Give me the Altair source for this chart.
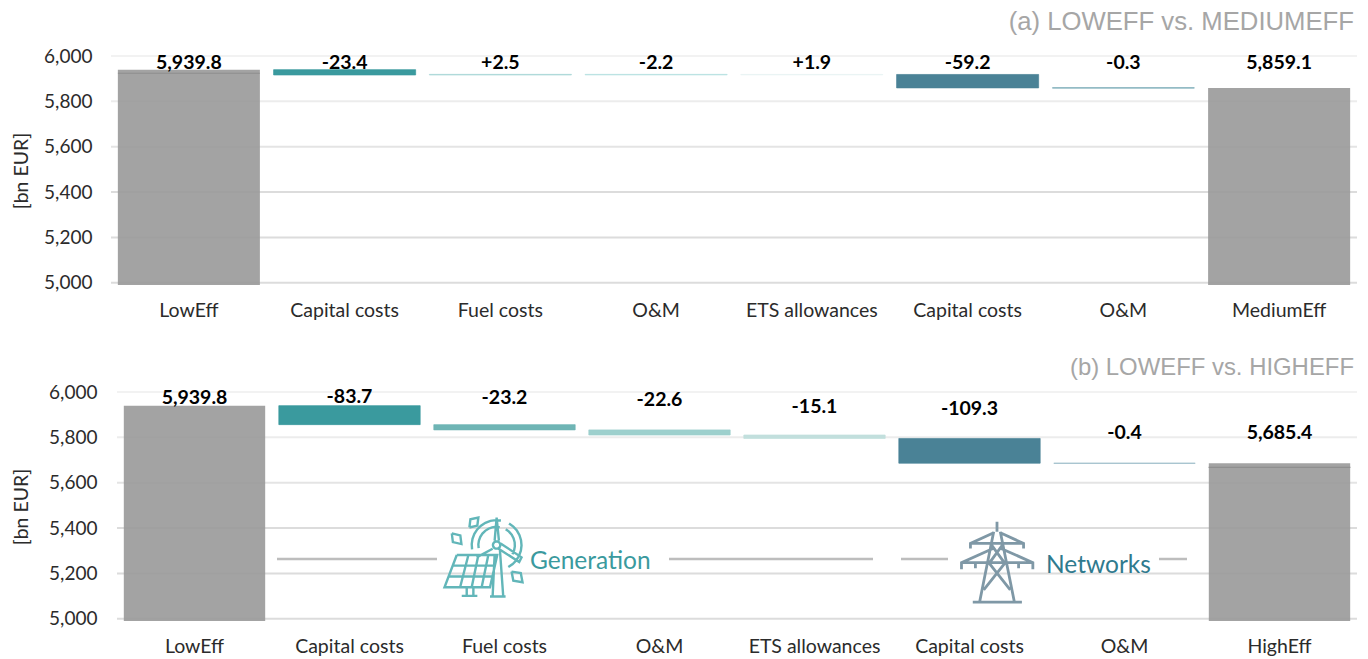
import json
import math
import altair as alt
import pandas as pd

cats_a = ["LowEff", "Capital costs", "Fuel costs", "O&M", "ETS allowances", "Capital costs", "O&M", "MediumEff"]
cats_b = ["LowEff", "Capital costs", "Fuel costs", "O&M", "ETS allowances", "Capital costs", "O&M", "HighEff"]
labels_a = ["5,939.8", "-23.4", "+2.5", "-2.2", "+1.9", "-59.2", "-0.3", "5,859.1"]
labels_b = ["5,939.8", "-83.7", "-23.2", "-22.6", "-15.1", "-109.3", "-0.4", "5,685.4"]
tops_a = [5939.8, 5939.8, 5918.9, 5918.9, 5918.6, 5918.6, 5859.4, 5859.1]
lows_a = [4990, 5916.4, 5916.4, 5916.7, 5916.7, 5859.4, 5859.1, 4990]
tops_b = [5939.8, 5939.8, 5856.1, 5832.9, 5810.3, 5795.2, 5685.9, 5685.4]
lows_b = [4990, 5856.1, 5832.9, 5810.3, 5795.2, 5685.9, 5685.5, 4990]
label_pos_a = [5968, 5968, 5968, 5968, 5968, 5968, 5968, 5968]
label_pos_b = [5973, 5977, 5972, 5963, 5935, 5925, 5819, 5819]
colors_a = ["#999999", "#3a9a9e", "#a6d6d6", "#b5dfdf", "#e8f3f3", "#4a8296", "#5d99a8", "#999999"]
colors_b = ["#999999", "#3a9a9e", "#6fb5b5", "#9dd0cd", "#c2dfdd", "#4a8296", "#8fb5c2", "#999999"]
grid_ticks = [5000, 5200, 5400, 5600, 5800, 6000]
grid_colors = ["#dcdcdc", "#dcdcdc", "#dcdcdc", "#e4e4e4", "#ececec", "#f2f2f2"]
mark_key_a, mark_val_a = [0], [5924]
mark_key_b, mark_val_b = [7], [5668]

FONT = "Lato"
Y_MIN, Y_MAX = 4990, 6000


def pts(poly, cx, cy, half=126.0):
    return "M" + "L".join(f"{(x - cx) / half:.3f},{(y - cy) / half:.3f}" for x, y in poly)


def arc(x, y, r, a0, a1):
    n = max(3, int(abs(a1 - a0) / 12))
    return [(x + r * math.cos(math.radians(a0 + (a1 - a0) * i / n)),
             y + r * math.sin(math.radians(a0 + (a1 - a0) * i / n))) for i in range(n + 1)]


def leaf(x0, y0, x1, y1):
    mx, my = (x0 + x1) / 2, (y0 + y1) / 2
    dx, dy = (y1 - y0) * 0.35, -(x1 - x0) * 0.35
    return [(x0, y0), (mx + dx, my + dy), (x1, y1), (mx - dx, my - dy), (x0, y0)]


gen_polys = [
    [(590, 165), (712, 165), (690, 262), (553, 262), (590, 165)],
    [(578, 197), (702, 197)], [(566, 230), (696, 230)],
    [(625, 165), (600, 262)], [(655, 165), (635, 262)], [(685, 165), (665, 262)],
    [(620, 262), (620, 288)], [(640, 262), (640, 288)], [(605, 288), (652, 288)],
    [(704, 165), (698, 290)], [(720, 150), (730, 290)], [(690, 290), (737, 290)],
    [(704, 122), (710, 52), (717, 122)],
    [(722, 130), (785, 172), (778, 186), (716, 146)],
    [(698, 146), (650, 172)],
    arc(710, 135, 11, 0, 360),
    arc(710, 135, 75, -80, -190), arc(710, 135, 75, -60, 62),
    arc(710, 135, 55, -80, -190), arc(710, 135, 55, -60, 30),
    leaf(628, 82, 655, 52), leaf(575, 100, 604, 132), leaf(755, 215, 788, 247),
]
tower_polys = [
    [(410, 65), (410, 95)],
    [(400, 95), (358, 305)], [(420, 95), (462, 305)],
    [(337, 307), (485, 307)],
    [(330, 130), (490, 130)], [(330, 145), (330, 130), (400, 98)], [(490, 145), (490, 130), (420, 98)],
    [(303, 188), (518, 188)], [(303, 208), (303, 188), (398, 145)], [(518, 208), (518, 188), (422, 145)],
    [(390, 130), (432, 188)], [(430, 130), (388, 188)],
    [(385, 188), (450, 270)], [(435, 188), (370, 270)],
    [(345, 188), (345, 205)], [(475, 188), (475, 205)],
]
GEN_PATH = "".join(pts(p, 672, 174) for p in gen_polys)
TOWER_PATH = "".join(pts(p, 410, 186) for p in tower_polys)


def panel(cats, labels, tops, lows, label_pos, colors, mark_key, mark_val, x0, W=1246,
          label_pad=19, title_pad=12):
    df = pd.DataFrame({"k": list(range(8)), "top": tops, "low": lows, "lab": labels,
                       "lp": label_pos, "col": colors})
    x_scale = alt.Scale(domain=list(range(8)), range=[x0, W], paddingInner=0.088, paddingOuter=0.044)
    y_scale = alt.Scale(domain=[Y_MIN, Y_MAX], nice=False, zero=False)
    label_expr = json.dumps(cats) + "[datum.value]"
    x_axis = alt.Axis(labelExpr=label_expr, labelAngle=0, labelFont=FONT, labelFontSize=19.5,
                      labelColor="#2b2b2b", labelPadding=16, domain=False, ticks=False, grid=False)
    y_axis = alt.Axis(values=grid_ticks, format=",.0f", grid=False, domain=False, ticks=False,
                      labelFont=FONT, labelFontSize=19, labelColor="#2b2b2b",
                      labelPadding=label_pad, titleFont=FONT, titleFontSize=19.5,
                      titleFontWeight="normal", titleColor="#2b2b2b", titlePadding=title_pad)
    x = alt.X("k:O", scale=x_scale, title=None, axis=x_axis)

    def y(field):
        return alt.Y(field, scale=y_scale, title="[bn EUR]", axis=y_axis)

    grid = alt.Chart(pd.DataFrame({"v": grid_ticks, "c": grid_colors})).mark_rule(strokeWidth=2).encode(
        x=alt.value(x0), x2=alt.value(W), y=y("v:Q"),
        color=alt.Color("c:N", scale=None))
    base = alt.Chart(df)
    totals = base.transform_filter("datum.k == 0 || datum.k == 7").mark_bar(opacity=0.9).encode(
        x=x, y=y("top:Q"), y2="low:Q", color=alt.value("#999999"))
    deltas = base.transform_filter("datum.k > 0 && datum.k < 7").mark_bar(strokeWidth=0.7).encode(
        x=x, y=y("top:Q"), y2="low:Q",
        fill=alt.Fill("col:N", scale=None), stroke=alt.Stroke("col:N", scale=None))
    inner = alt.Chart(pd.DataFrame({"k": mark_key, "v": mark_val})).mark_tick(
        color="#868686", thickness=1.2, size=142).encode(x=x, y=y("v:Q"))
    text = base.mark_text(font=FONT, fontSize=19.5, fontWeight="bold", color="#000000").encode(
        x=x, y=y("lp:Q"), text="lab:N")
    return [grid, totals, deltas, inner, text]


def annotations():
    anchor = pd.DataFrame({"n": [0]})
    segs = [(166, 326), (558, 762), (790, 837), (1048, 1076)]
    lines = [alt.Chart(anchor).mark_rule(strokeWidth=2.5, color="#bdbdbd").encode(
        x=alt.value(a), x2=alt.value(b), y=alt.value(167)) for a, b in segs]
    gen_text = alt.Chart(anchor).mark_text(text="Generation", font=FONT, fontSize=24.5, color="#3a9a9e",
                                           align="left").encode(x=alt.value(419), y=alt.value(170))
    net_text = alt.Chart(anchor).mark_text(text="Networks", font=FONT, fontSize=24.5, color="#2f7a8e",
                                           align="left").encode(x=alt.value(935), y=alt.value(174))
    gen_icon = alt.Chart(anchor).mark_point(shape=GEN_PATH, size=7000, filled=False, strokeWidth=2.4,
                                            color="#62b6b9", opacity=1).encode(
        x=alt.value(373), y=alt.value(166))
    net_icon = alt.Chart(anchor).mark_point(shape=TOWER_PATH, size=7000, filled=False, strokeWidth=2.8,
                                            color="#7f98a6", opacity=1).encode(
        x=alt.value(886), y=alt.value(170))
    return lines + [gen_icon, gen_text, net_icon, net_text]


def ttl(s, size, offset):
    return alt.Title(s, anchor="end", font="Liberation Sans", fontSize=size, fontWeight="normal",
                     color="#a6a6a6", dx=-3, offset=offset, frame="group")


l1 = panel(cats_a, labels_a, tops_a, lows_a, label_pos_a, colors_a, mark_key_a, mark_val_a, 0)
l2 = panel(cats_b, labels_b, tops_b, lows_b, label_pos_b, colors_b, mark_key_b, mark_val_b, 6,
           label_pad=14, title_pad=17)

top = alt.layer(*l1).properties(width=1246, height=229, title=ttl("(a) LOWEFF vs. MEDIUMEFF", 25.7, 11))
bottom = alt.layer(*l2, *annotations()).properties(width=1246, height=229,
                                                    title=ttl("(b) LOWEFF vs. HIGHEFF", 23.9, 3))

chart = alt.vconcat(top, bottom, spacing=36).properties(
    padding={"left": 3, "top": 1, "right": 0, "bottom": 0},
    background="#ffffff",
).configure_view(stroke=None)

chart.save("out.html", embed_options={"renderer": "svg", "actions": False})
